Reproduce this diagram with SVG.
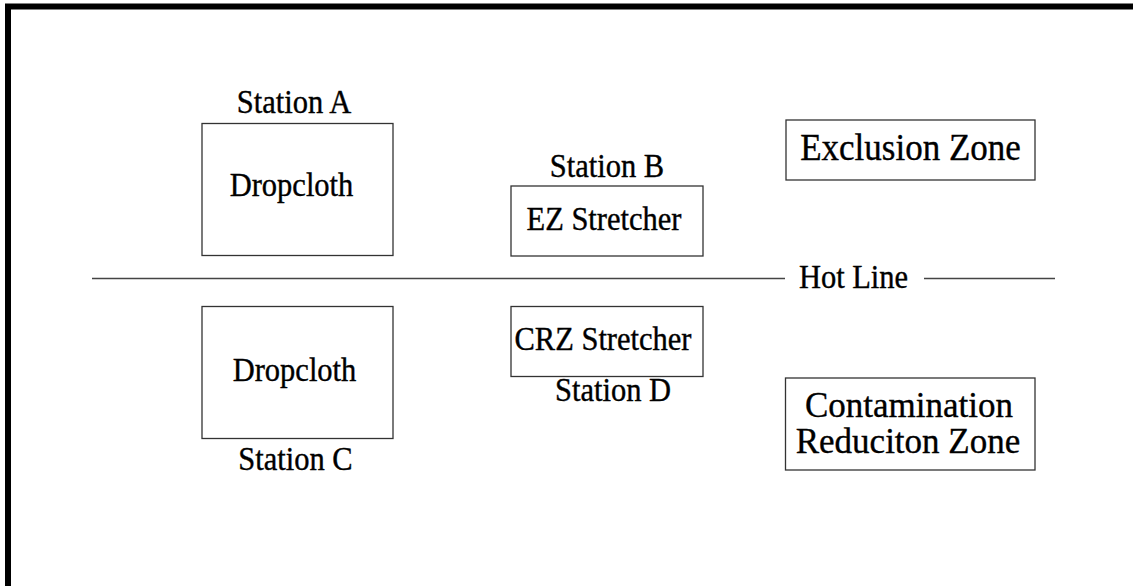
<svg xmlns="http://www.w3.org/2000/svg" width="1133" height="586" viewBox="0 0 1133 586">
<style>
.box{fill:none;stroke:#333;stroke-width:1.3}
.t{font-family:"Liberation Serif","Times New Roman",serif;fill:#000;stroke:#000;stroke-width:0.35;text-anchor:middle}
.s{font-size:30.5px}
.b{font-size:35px}
.ln{stroke:#444;stroke-width:1.4;fill:none}
</style>
<rect x="0" y="0" width="1133" height="586" fill="#fff"/>
<rect x="8" y="6.5" width="1200" height="700" fill="none" stroke="#000" stroke-width="6"/>
<g id="connectors">
<line class="ln" x1="92" y1="278.5" x2="785" y2="278.5"/>
<line class="ln" x1="924" y1="278.5" x2="1055" y2="278.5"/>
</g>
<g id="hotline-label"><text class="t s" transform="translate(853.5 288) scale(1 1.08)">Hot Line</text></g>
<g id="stationA">
<rect class="box" x="202" y="123.5" width="191" height="132"/>
<text class="t s" transform="translate(294 113) scale(1 1.08)">Station A</text>
<text class="t s" transform="translate(291.5 196) scale(1 1.08)">Dropcloth</text>
</g>
<g id="stationB">
<rect class="box" x="511" y="186" width="192" height="70"/>
<text class="t s" transform="translate(607 177) scale(1 1.08)">Station B</text>
<text class="t s" transform="translate(604 230) scale(1 1.08)">EZ Stretcher</text>
</g>
<g id="exclusion">
<rect class="box" x="786" y="120" width="249" height="60"/>
<text class="t b" transform="translate(910.5 160) scale(1 1.1)">Exclusion Zone</text>
</g>
<g id="stationC">
<rect class="box" x="202" y="306.5" width="191" height="132"/>
<text class="t s" transform="translate(294.5 381) scale(1 1.08)">Dropcloth</text>
<text class="t s" transform="translate(295.5 470) scale(1 1.08)">Station C</text>
</g>
<g id="stationD">
<rect class="box" x="511" y="306.5" width="192" height="70"/>
<text class="t s" transform="translate(603 350) scale(1 1.08)">CRZ Stretcher</text>
<text class="t s" transform="translate(613 401) scale(1 1.08)">Station D</text>
</g>
<g id="crz">
<rect class="box" x="785.5" y="378" width="249.5" height="92"/>
<text class="t b" x="909" y="417">Contamination</text>
<text class="t b" x="908" y="453">Reduciton Zone</text>
</g>
</svg>
